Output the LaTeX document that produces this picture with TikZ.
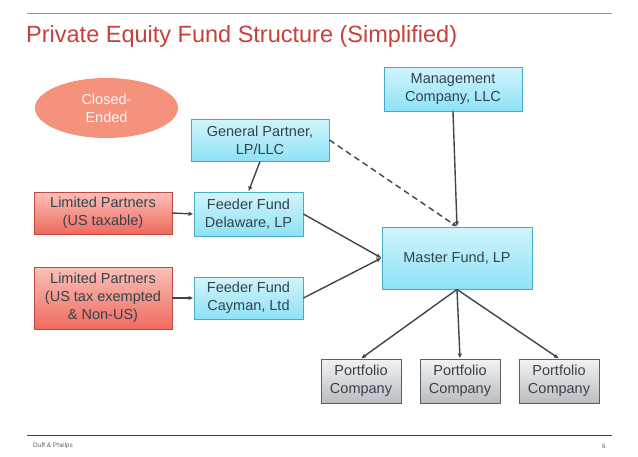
\documentclass[tikz,border=0pt]{standalone}
\usepackage{fontspec}
\setmainfont{Liberation Sans}
\usetikzlibrary{arrows.meta,shapes.geometric}
\definecolor{teal1}{HTML}{3FB8C9}
\definecolor{titlered}{HTML}{C8403A}
\definecolor{txt}{HTML}{34424C}
\definecolor{blueT}{HTML}{D2F4FC}
\definecolor{blueB}{HTML}{8DE2F5}
\definecolor{blueD}{HTML}{48A9C8}
\definecolor{redT}{HTML}{FBC0B8}
\definecolor{redB}{HTML}{EF6A5E}
\definecolor{redD}{HTML}{C04A40}
\definecolor{grayT}{HTML}{F2F3F4}
\definecolor{grayB}{HTML}{B9BDC1}
\definecolor{grayD}{HTML}{5A5F64}
\definecolor{salmon}{HTML}{F4927C}
\definecolor{conn}{HTML}{3C4650}
\tikzset{
  boxbase/.style={rectangle, draw, line width=0.9pt, align=center, inner sep=0pt,
    text=txt, font=\fontsize{14.5}{18}\selectfont},
  bluebox/.style={boxbase, draw=blueD, top color=blueT, bottom color=blueB},
  redbox/.style={boxbase, draw=redD, top color=redT, bottom color=redB},
  graybox/.style={boxbase, draw=grayD, top color=grayT, bottom color=grayB},
  conn/.style={draw=conn, line width=1.4pt, -{Latex[length=5pt,width=4.5pt]}},
}
\begin{document}
\begin{tikzpicture}[x=1pt,y=-1pt]
\useasboundingbox (0,0) rectangle (638,456);
\fill[white] (0,0) rectangle (638,456);
% header and footer
\draw[teal1, line width=0.8pt] (27,13) -- (612,13);
\node[anchor=west, text=titlered, font=\fontsize{23.5}{26}\selectfont, inner sep=0pt] (title) at (26,36) {Private Equity Fund Structure (Simplified)};
\draw[black!75, line width=0.9pt] (27,435) -- (612,435);
\node[anchor=west, text=black!60, font=\fontsize{6.5}{8}\selectfont, inner sep=0pt] (foot) at (33,446) {Duff \& Phelps};
\node[anchor=east, text=black!60, font=\fontsize{6.5}{8}\selectfont, inner sep=0pt] (page) at (606,446) {6};
% nodes
\node[ellipse, fill=salmon, minimum width=143pt, minimum height=60pt, inner sep=0pt, align=center,
  text=white!92!salmon, font=\fontsize{14.5}{18}\selectfont] (ce) at (106.5,108) {Closed-\\Ended};
\node[bluebox, minimum width=138pt, minimum height=42pt] (gp) at (260,140) {General Partner,\\LP/LLC};
\node[bluebox, minimum width=138pt, minimum height=44pt] (mg) at (453,89) {Management\\Company, LLC};
\node[redbox, minimum width=138pt, minimum height=42pt] (lp1) at (103,213) {Limited Partners\\(US taxable)};
\node[redbox, minimum width=138pt, minimum height=62pt] (lp2) at (103,298) {Limited Partners\\(US tax exempted\\\& Non-US)};
\node[bluebox, minimum width=109pt, minimum height=44pt] (fd) at (248.5,214) {Feeder Fund\\Delaware, LP};
\node[bluebox, minimum width=109pt, minimum height=42pt] (fc) at (248.5,298) {Feeder Fund\\Cayman, Ltd};
\node[bluebox, minimum width=150pt, minimum height=62pt] (ms) at (457,258) {Master Fund, LP};
\node[graybox, minimum width=80pt, minimum height=44pt] (p1) at (361,381) {Portfolio\\Company};
\node[graybox, minimum width=80pt, minimum height=44pt] (p2) at (460,381) {Portfolio\\Company};
\node[graybox, minimum width=80pt, minimum height=44pt] (p3) at (559,381) {Portfolio\\Company};
% connectors
\draw[conn] (gp.south) -- (fd.north);
\draw[conn] (lp1.east) -- (fd.west);
\draw[conn] (lp2.east) -- (fc.west);
\draw[conn] (fd.east) -- (ms.west);
\draw[conn] (fc.east) -- (ms.west);
\draw[conn] (mg.south) -- (ms.north);
\draw[conn, dash pattern=on 6pt off 4pt] (gp.east) -- (ms.north);
\draw[conn] (ms.south) -- (p1.north);
\draw[conn] (ms.south) -- (p2.north);
\draw[conn] (ms.south) -- (p3.north);
\end{tikzpicture}
\end{document}
